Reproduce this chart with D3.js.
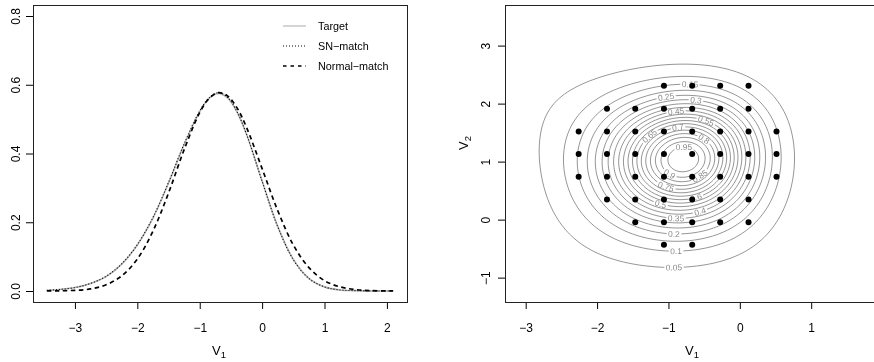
<!DOCTYPE html>
<html>
<head>
<meta charset="utf-8">
<script src="https://cdn.jsdelivr.net/npm/d3@7"></script>
<style>
  body { margin: 0; background: #fff; }
  text { font-family: "Liberation Sans", Arial, Helvetica, sans-serif; }
  svg { opacity: 0.999; }
</style>
</head>
<body>
<svg id="chart" width="874" height="362"></svg>
<script>
// ---- left panel: densities of V1 ----
const v1Grid = [-3.45, -3.25, -3, -2.75, -2.5, -2.25, -2, -1.75, -1.5, -1.25, -1, -0.85, -0.7, -0.55, -0.4, -0.25, 0, 0.25, 0.5, 0.75, 1, 1.25, 1.5, 1.75, 2.1];
const targetDens = [0.002, 0.0045, 0.010, 0.022, 0.042, 0.078, 0.134, 0.212, 0.314, 0.426, 0.522, 0.560, 0.575, 0.561, 0.520, 0.456, 0.320, 0.188, 0.092, 0.037, 0.012, 0.003, 0.001, 0.0, 0.0];
const snMatchDens = [0.002, 0.0045, 0.010, 0.022, 0.043, 0.079, 0.135, 0.214, 0.316, 0.428, 0.524, 0.562, 0.577, 0.563, 0.521, 0.456, 0.319, 0.187, 0.091, 0.036, 0.012, 0.003, 0.001, 0.0, 0.0];
const normalMatchDens = [0.0002, 0.0006, 0.002, 0.006, 0.018, 0.044, 0.093, 0.174, 0.285, 0.411, 0.519, 0.560, 0.577, 0.567, 0.532, 0.476, 0.356, 0.234, 0.134, 0.068, 0.030, 0.012, 0.004, 0.001, 0.0002];
const legendLabels = ["Target", "SN\u2212match", "Normal\u2212match"];
const xTicksLeft = [-3, -2, -1, 0, 1, 2];
const yTicksLeft = [0, 0.2, 0.4, 0.6, 0.8];

// ---- right panel: contour levels, where their labels sit, outer contour, points ----
const levels = [0.05, 0.1, 0.15, 0.2, 0.25, 0.3, 0.35, 0.4, 0.45, 0.5, 0.55, 0.6, 0.65, 0.7, 0.75, 0.8, 0.85, 0.9, 0.95];
const labelSpots = [
  [0.05, -0.909, -0.82], [0.1, -0.885, -0.56], [0.15, -0.69, 2.33], [0.2, -0.909, -0.264],
  [0.25, -1.035, 2.11], [0.3, -0.605, 2.08], [0.35, -0.885, 0.035], [0.4, -0.55, 0.155],
  [0.45, -0.909, 1.874], [0.5, -1.105, 0.31], [0.55, -0.465, 1.75], [0.6, -0.62, 0.38],
  [0.65, -1.28, 1.46], [0.7, -0.86, 1.60], [0.75, -1.025, 0.63], [0.8, -0.50, 1.42],
  [0.85, -0.605, 0.83], [0.9, -0.98, 0.81], [0.95, -0.79, 1.20]
];
const outerPts = [[-2.80, 1.05], [0.76, 1.26], [-0.70, 2.66], [-0.88, -0.81], [-2.00, 2.44], [-0.134, 2.58],
  [0.566, 1.95], [0.73, 0.57], [0.38, -0.235], [-0.32, -0.75], [-2.0, -0.58], [-2.655, 0.224]];
const densMode = [-0.79, 1.04];
const nodeV1 = [-2.258, -1.861, -1.465, -1.063, -0.667, -0.275, 0.122, 0.514];
const nodeV2 = [2.31, 1.91, 1.52, 1.13, 0.74, 0.345, -0.045, -0.435];
const nodeCols = [[3, 4, 5, 6], [1, 2, 3, 4, 5, 6], [0, 1, 2, 3, 4, 5, 6, 7], [0, 1, 2, 3, 4, 5, 6, 7],
  [0, 1, 2, 3, 4, 5, 6, 7], [1, 2, 3, 4, 5, 6], [2, 3, 4, 5, 6], [3, 4]];
const xTicksRight = [-3, -2, -1, 0, 1];
const yTicksRight = [-1, 0, 1, 2, 3];

// smooth log-density surface through the points read above (least squares)
const fitPts = labelSpots.concat(outerPts.map(d => [0.05, d[0], d[1]]));
const monos = (dx, dy) => [dx * dx, dx * dy, dy * dy, dx ** 3, dx * dx * dy, dx * dy * dy, dy ** 3,
  dx ** 4, dx ** 3 * dy, dx * dx * dy * dy, dx * dy ** 3, dy ** 4];
const K = 12;
const normM = d3.range(K).map(() => new Array(K).fill(0)), rhs = new Array(K).fill(0);
fitPts.forEach(([L, x, y]) => {
  const w = 1 / Math.sqrt(-Math.log(L));
  const row = monos(x - densMode[0], y - densMode[1]).map(v => v * w), b = Math.log(L) * w;
  for (let a = 0; a < K; a++) { rhs[a] += row[a] * b; for (let c = 0; c < K; c++) normM[a][c] += row[a] * row[c]; }
});
for (let a = 0; a < K; a++) normM[a][a] += 1e-3;
function solve(A, b) {
  const n = b.length, M = A.map((r, i) => r.concat([b[i]]));
  for (let i = 0; i < n; i++) {
    let p = i;
    for (let r = i + 1; r < n; r++) if (Math.abs(M[r][i]) > Math.abs(M[p][i])) p = r;
    [M[i], M[p]] = [M[p], M[i]];
    for (let r = 0; r < n; r++) if (r !== i) {
      const f = M[r][i] / M[i][i];
      for (let c = i; c <= n; c++) M[r][c] -= f * M[i][c];
    }
  }
  return M.map((r, i) => r[n] / r[i]);
}
const coef = solve(normM, rhs);
function densAt(x, y) {
  const dx = x - densMode[0], dy = y - densMode[1], r = Math.hypot(dx, dy);
  const taper = r > 2.5 ? -30 * (r - 2.5) ** 2 : 0; // keep the far corners empty
  return Math.exp(d3.sum(monos(dx, dy), (v, i) => v * coef[i]) + taper);
}

const svg = d3.select("#chart");
const defs = svg.append("defs");
const tickFont = 12;

// ================= left panel =================
const box1 = { l: 33, r: 407, t: 5, b: 302 };
const x1 = d3.scaleLinear().domain([-3.672, 2.322]).range([box1.l, box1.r]);
const y1 = d3.scaleLinear().domain([-0.032, 0.832]).range([box1.b, box1.t]);
const g1 = svg.append("g");
const line1 = d3.line().x(d => x1(d[0])).y(d => y1(d[1])).curve(d3.curveCatmullRom.alpha(0.5));

g1.append("path").datum(d3.zip(v1Grid, targetDens)).attr("d", line1)
  .attr("fill", "none").attr("stroke", "#b3b3b3").attr("stroke-width", 1.6);
g1.append("path").datum(d3.zip(v1Grid, snMatchDens)).attr("d", line1)
  .attr("fill", "none").attr("stroke", "#000").attr("stroke-width", 1.1).attr("stroke-dasharray", "1,2");
g1.append("path").datum(d3.zip(v1Grid, normalMatchDens)).attr("d", line1)
  .attr("fill", "none").attr("stroke", "#000").attr("stroke-width", 1.7).attr("stroke-dasharray", "4.5,3.5");

// legend
const legendStyles = [
  { stroke: "#b3b3b3", w: 1.1, dash: null },
  { stroke: "#000", w: 1, dash: "1,2" },
  { stroke: "#000", w: 1.3, dash: "3.5,4" }
];
legendLabels.forEach((lab, i) => {
  const yy = 26 + i * 20;
  g1.append("line").attr("x1", 283).attr("x2", 306).attr("y1", yy).attr("y2", yy)
    .attr("stroke", legendStyles[i].stroke).attr("stroke-width", legendStyles[i].w)
    .attr("stroke-dasharray", legendStyles[i].dash);
  g1.append("text").attr("x", 318).attr("y", yy).attr("dy", "0.35em")
    .attr("font-size", 10.8).text(lab);
});

function drawAxes(g, box, xs, ys, xt, yt, yfmt, yLabX) {
  const ax = g.append("g").attr("transform", `translate(0,${box.b})`)
    .call(d3.axisBottom(xs).tickValues(xt).tickSize(7).tickPadding(14.5).tickFormat(d3.format("d")));
  ax.select(".domain").remove();
  ax.selectAll("text").attr("font-size", tickFont).attr("font-family", null).attr("fill", "#000");
  ax.selectAll("line").attr("stroke", "#000");
  const ay = g.append("g").attr("transform", `translate(${box.l},0)`)
    .call(d3.axisLeft(ys).tickValues(yt).tickSize(7).tickFormat(yfmt));
  ay.select(".domain").remove();
  ay.selectAll("line").attr("stroke", "#000");
  ay.selectAll("text").attr("font-size", tickFont).attr("font-family", null).attr("fill", "#000")
    .attr("x", 0).attr("dy", null).attr("y", yLabX - box.l)
    .attr("text-anchor", "middle").attr("transform", "rotate(-90)");
  // axis lines between the outer ticks, then the box
  g.append("line").attr("x1", xs(xt[0])).attr("x2", xs(xt[xt.length - 1]))
    .attr("y1", box.b + 0.5).attr("y2", box.b + 0.5).attr("stroke", "#000");
  g.append("line").attr("y1", ys(yt[0])).attr("y2", ys(yt[yt.length - 1]))
    .attr("x1", box.l + 0.5).attr("x2", box.l + 0.5).attr("stroke", "#000");
  g.append("rect").attr("x", box.l + 0.5).attr("y", box.t + 0.5)
    .attr("width", box.r - box.l).attr("height", box.b - box.t)
    .attr("fill", "none").attr("stroke", "#222").attr("stroke-width", 1);
}
drawAxes(g1, box1, x1, y1, xTicksLeft, yTicksLeft, d3.format(".1f"), 19.5);

function subLabel(g, x, y, main, sub, rot) {
  const t = g.append("text").attr("font-size", 13).attr("text-anchor", "middle")
    .attr("transform", `translate(${x},${y})` + (rot ? " rotate(-90)" : ""));
  t.append("tspan").text(main);
  t.append("tspan").attr("font-size", 9.5).attr("dy", 3).text(sub);
}
subLabel(g1, 219, 355, "V", "1", false);

// ================= right panel =================
const box2 = { l: 505, r: 879, t: 5, b: 302 };
const x2 = d3.scaleLinear().domain([-3.29, 1.95]).range([box2.l, box2.r]);
const y2 = d3.scaleLinear().domain([-1.42, 3.70]).range([box2.b, box2.t]);
const g2 = svg.append("g");
defs.append("clipPath").attr("id", "clip2").append("rect")
  .attr("x", box2.l).attr("y", box2.t).attr("width", box2.r - box2.l).attr("height", box2.b - box2.t);

const labFont = 8.4;
const contourCol = "#8a8a8a";

// density on a 2px grid over the plot box, normalised to its peak
const cell = 2;
const nx = Math.ceil((box2.r - box2.l) / cell), ny = Math.ceil((box2.b - box2.t) / cell);
const values = new Float64Array(nx * ny);
for (let j = 0; j < ny; j++) for (let i = 0; i < nx; i++) {
  values[i + j * nx] = densAt(x2.invert(box2.l + (i + 0.5) * cell), y2.invert(box2.t + (j + 0.5) * cell));
}
const peak = d3.max(values);
for (let i = 0; i < values.length; i++) values[i] /= peak;

const contourSet = d3.contours().size([nx, ny]).thresholds(levels)(values);
const toPx = c => [box2.l + c[0] * cell, box2.t + c[1] * cell];
const pxGeoms = contourSet.map(c => ({
  type: "MultiPolygon",
  coordinates: c.coordinates.map(poly => poly.map(ring => ring.map(toPx)))
}));

const gc = g2.append("g").attr("clip-path", "url(#clip2)");
const gLab = g2.append("g");
pxGeoms.forEach((geom, k) => {
  const spot = labelSpots.find(s => s[0] === levels[k]);
  const mask = defs.append("mask").attr("id", "m" + k).attr("maskUnits", "userSpaceOnUse")
    .attr("x", 0).attr("y", 0).attr("width", 874).attr("height", 362);
  mask.append("rect").attr("width", 874).attr("height", 362).attr("fill", "#fff");
  if (spot && geom.coordinates.length) {
    // snap the label to the nearest vertex of its contour and follow the line
    const px = x2(spot[1]), py = y2(spot[2]);
    let best = null, bd = Infinity;
    geom.coordinates.forEach(poly => poly.forEach(ring => ring.forEach((p, i) => {
      const d = (p[0] - px) ** 2 + (p[1] - py) ** 2;
      if (d < bd) { bd = d; best = { ring, i }; }
    })));
    const r = best.ring, n = r.length - 1;
    const a = r[(best.i - 2 + n) % n], b = r[(best.i + 2) % n], c = r[best.i];
    let ang = Math.atan2(b[1] - a[1], b[0] - a[0]) * 180 / Math.PI;
    if (ang > 90) ang -= 180;
    if (ang < -90) ang += 180;
    const txt = gLab.append("text").attr("font-size", labFont).attr("fill", contourCol)
      .attr("text-anchor", "middle").attr("dy", "0.35em")
      .attr("transform", `translate(${c[0]},${c[1]}) rotate(${ang})`)
      .text(String(levels[k]));
    const w = txt.node().getComputedTextLength() + 3;
    mask.append("rect").attr("x", -w / 2).attr("y", -labFont * 0.55).attr("width", w).attr("height", labFont * 1.1)
      .attr("fill", "#000").attr("transform", `translate(${c[0]},${c[1]}) rotate(${ang})`);
  }
  gc.append("path").attr("d", d3.geoPath()(geom)).attr("fill", "none")
    .attr("stroke", contourCol).attr("stroke-width", 0.9).attr("mask", `url(#m${k})`);
});

// grid points
const nodes = [];
nodeCols.forEach((cols, r) => cols.forEach(c => nodes.push([nodeV1[c], nodeV2[r]])));
g2.append("g").selectAll("circle").data(nodes).join("circle")
  .attr("cx", d => x2(d[0])).attr("cy", d => y2(d[1])).attr("r", 3).attr("fill", "#000");

drawAxes(g2, box2, x2, y2, xTicksRight, yTicksRight, d3.format("d"), 490);
subLabel(g2, 692, 355, "V", "1", false);
subLabel(g2, 468, 143, "V", "2", true);
</script>
</body>
</html>
